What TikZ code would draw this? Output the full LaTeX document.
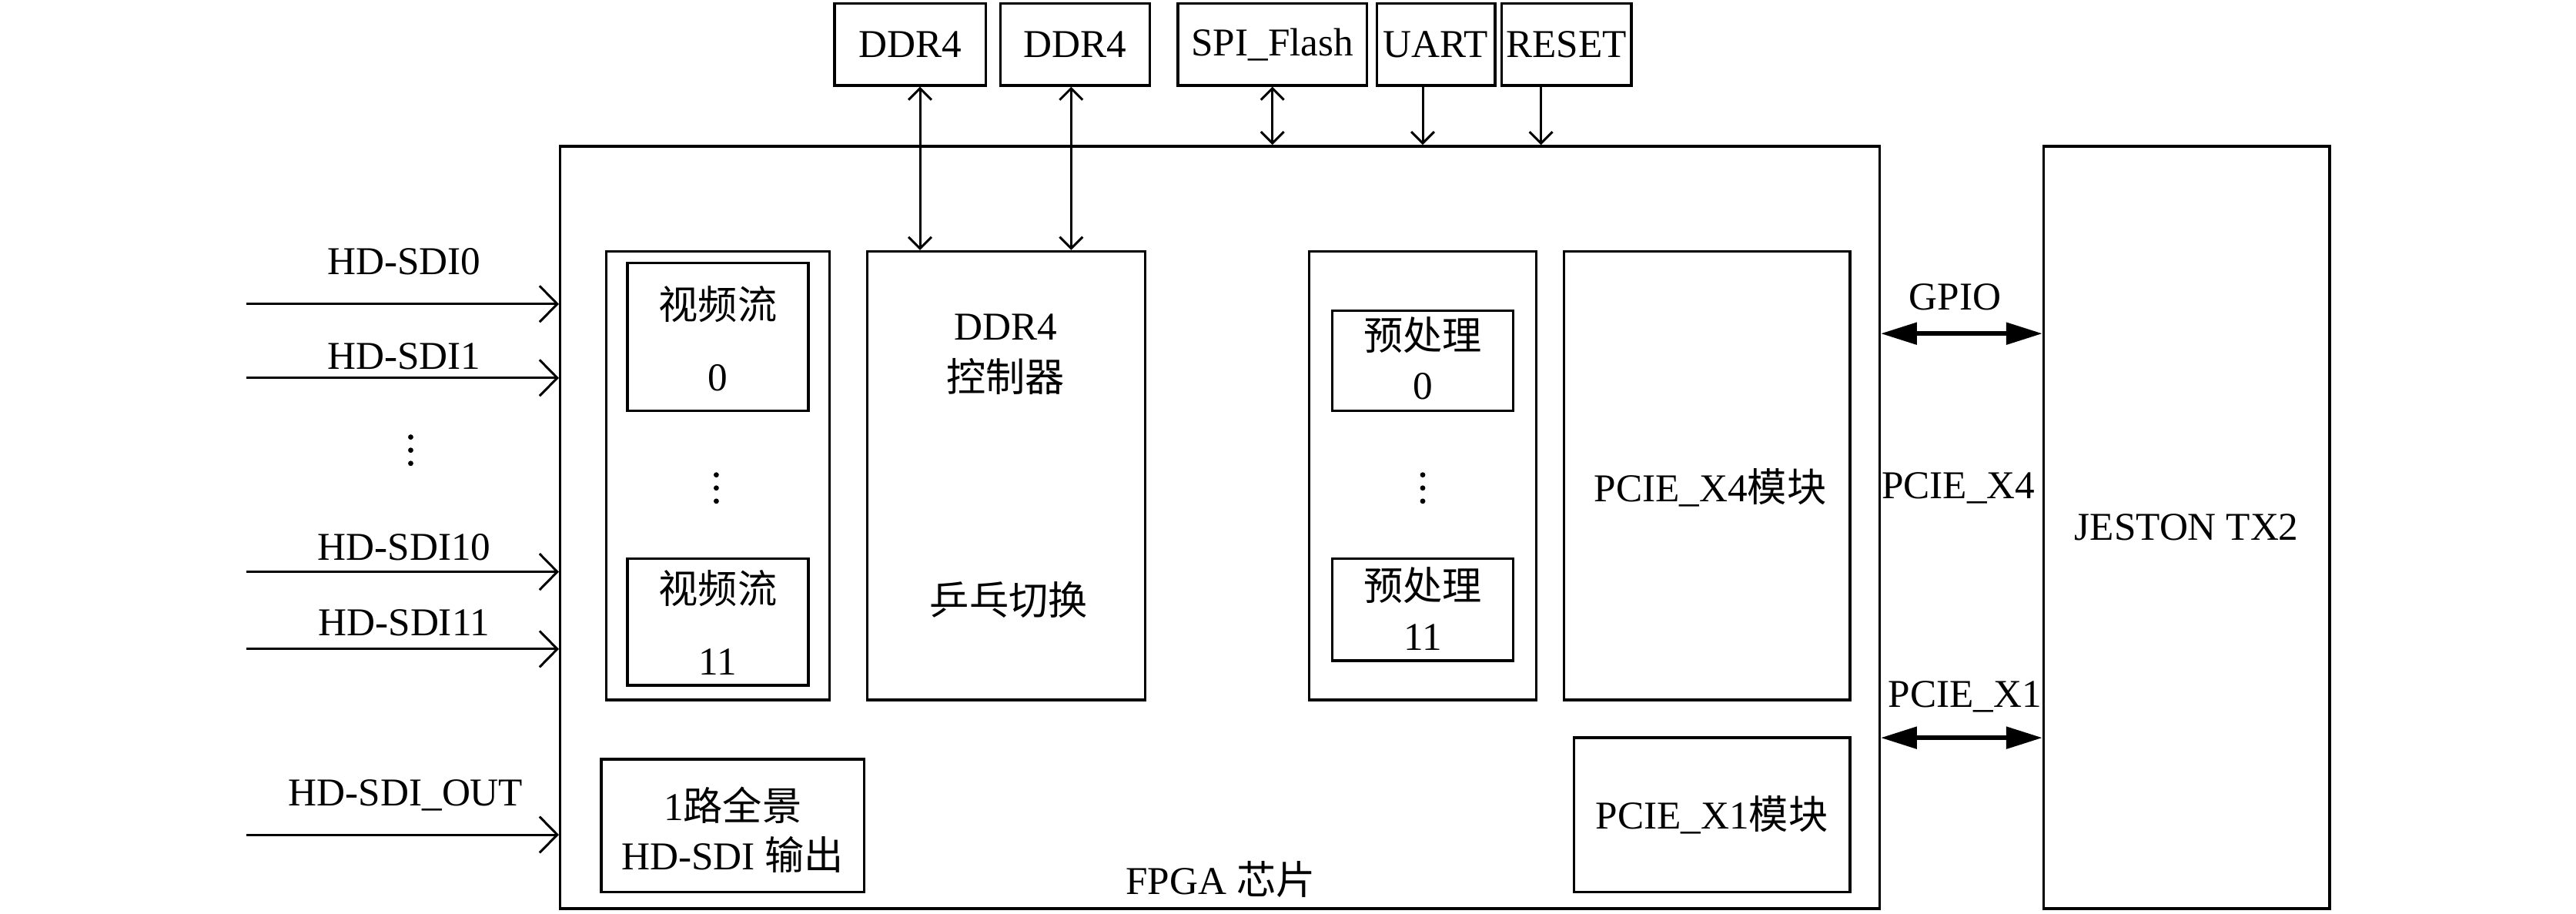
\documentclass[tikz,border=0pt]{standalone}
\usepackage{fontspec}
\setmainfont{Liberation Serif}
\newfontfamily\cjk{Noto Sans CJK SC}
\usetikzlibrary{arrows.meta}
\begin{document}
\begin{tikzpicture}[x=0.5pt,y=-0.5pt,
  font=\fontsize{12}{14}\selectfont,
  box/.style={draw,line width=0.8pt,inner sep=0pt},
  lbl/.style={inner sep=0pt},
  inarrow/.style={line width=0.7pt,-{Straight Barb[length=5.4pt,width=11pt]}},
  toparrow/.style={line width=0.7pt,-{Straight Barb[length=3.5pt,width=7pt]}},
  topboth/.style={line width=0.7pt,{Straight Barb[length=3.5pt,width=7pt]}-{Straight Barb[length=3.5pt,width=7pt]}},
  fatboth/.style={line width=1.4pt,{Triangle[length=11pt,width=6.5pt]}-{Triangle[length=11pt,width=6.5pt]}},
  dot/.style={fill=black}
]
\useasboundingbox (0,0) rectangle (1568,556);

% top peripherals
\node[box,minimum width=46pt,minimum height=25pt] (ddrA) at (554,27) {DDR4};
\node[box,minimum width=45.5pt,minimum height=25pt] (ddrB) at (654.5,27) {DDR4};
\node[box,minimum width=57.5pt,minimum height=25pt] (spi) at (774.5,27) {SPI\_Flash};
\node[box,minimum width=36pt,minimum height=25pt] (uart) at (874,27) {UART};
\node[box,minimum width=39.5pt,minimum height=25pt] (reset) at (953.5,27) {RESET};

% main boxes
\node[box,minimum width=401.5pt,minimum height=232pt] (fpga) at (742.5,321) {};
\node[box,minimum width=87pt,minimum height=232pt] (jetson) at (1331,321) {JESTON TX2};
\node[lbl] (fpgalbl) at (743,535) {FPGA {\cjk 芯片}};

% video streams
\node[box,minimum width=68pt,minimum height=136.5pt] (vidouter) at (437,289.5) {};
\node[box,minimum width=55pt,minimum height=45pt] (vid0) at (437,205) {};
\node[lbl] (vid0a) at (437,185) {\cjk 视频流};
\node[lbl] (vid0b) at (437,230) {0};
\node[box,minimum width=55pt,minimum height=38.5pt] (vid11) at (437,378.5) {};
\node[lbl] (vid11a) at (437,358) {\cjk 视频流};
\node[lbl] (vid11b) at (437,403) {11};
\fill[dot] (436,289) circle (0.8pt) (436,297) circle (0.8pt) (436,305) circle (0.8pt);

% DDR4 controller
\node[box,minimum width=84.5pt,minimum height=136.5pt] (ddrctrl) at (612.5,289.5) {};
\node[lbl] (ddrctrla) at (612,199) {DDR4};
\node[lbl] (ddrctrlb) at (612,229) {\cjk 控制器};
\node[lbl] (ddrctrlc) at (614,365) {\cjk 乒乓切换};

% preprocessing
\node[box,minimum width=69pt,minimum height=136.5pt] (preouter) at (866,289.5) {};
\node[box,minimum width=55pt,minimum height=30.5pt] (pre0) at (866,219.5) {};
\node[lbl] (pre0a) at (866,204) {\cjk 预处理};
\node[lbl] (pre0b) at (866,235) {0};
\node[box,minimum width=55pt,minimum height=31pt] (pre11) at (866,371) {};
\node[lbl] (pre11a) at (866,356) {\cjk 预处理};
\node[lbl] (pre11b) at (866,388) {11};
\fill[dot] (866,289) circle (0.8pt) (866,297) circle (0.8pt) (866,305) circle (0.8pt);

% PCIE modules
\node[box,minimum width=87pt,minimum height=136.5pt] (pciex4) at (1039,289.5) {};
\node[lbl] (pciex4l) at (1041,297) {PCIE\_X4{\cjk 模块}};
\node[box,minimum width=84pt,minimum height=47pt] (pciex1) at (1042,496) {PCIE\_X1{\cjk 模块}};

% output box
\node[box,minimum width=80pt,minimum height=40.5pt] (sdiout) at (446,502.5) {};
\node[lbl] (sdiouta) at (446,490) {1{\cjk 路全景}};
\node[lbl] (sdioutb) at (446,520) {HD-SDI {\cjk 输出}};

% left inputs
\coordinate (s0) at (150,185);
\coordinate (s1) at (150,230);
\coordinate (s10) at (150,348);
\coordinate (s11) at (150,395);
\coordinate (sout) at (150,508);
\draw[inarrow] (s0) -- (s0 -| fpga.west);
\draw[inarrow] (s1) -- (s1 -| fpga.west);
\draw[inarrow] (s10) -- (s10 -| fpga.west);
\draw[inarrow] (s11) -- (s11 -| fpga.west);
\draw[inarrow] (sout) -- (sout -| fpga.west);
\node[lbl] (l0) at (246,159) {HD-SDI0};
\node[lbl] (l1) at (246,217) {HD-SDI1};
\node[lbl] (l10) at (246,333) {HD-SDI10};
\node[lbl] (l11) at (246,379) {HD-SDI11};
\node[lbl] (lout) at (247,484) {HD-SDI\_OUT};
\fill[dot] (250,266) circle (0.8pt) (250,274) circle (0.8pt) (250,282) circle (0.8pt);

% top connectors
\draw[topboth] ([xshift=3pt]ddrA.south) -- ([xshift=3pt]ddrA.south |- ddrctrl.north);
\draw[topboth] ([xshift=-1.25pt]ddrB.south) -- ([xshift=-1.25pt]ddrB.south |- ddrctrl.north);
\draw[topboth] (spi.south) -- (spi.south |- fpga.north);
\draw[toparrow] ([xshift=-4pt]uart.south) -- ([xshift=-4pt]uart.south |- fpga.north);
\draw[toparrow] ([xshift=-7.75pt]reset.south) -- ([xshift=-7.75pt]reset.south |- fpga.north);

% right connectors
\coordinate (gp) at (1144,203);
\coordinate (p1) at (1144,449);
\draw[fatboth] (gp -| fpga.east) -- (gp -| jetson.west);
\draw[fatboth] (p1 -| fpga.east) -- (p1 -| jetson.west);
\node[lbl] (gpiol) at (1190,181) {GPIO};
\node[lbl] (px4l) at (1192,297) {PCIE\_X4};
\node[lbl] (px1l) at (1196,424) {PCIE\_X1};
\end{tikzpicture}
\end{document}
